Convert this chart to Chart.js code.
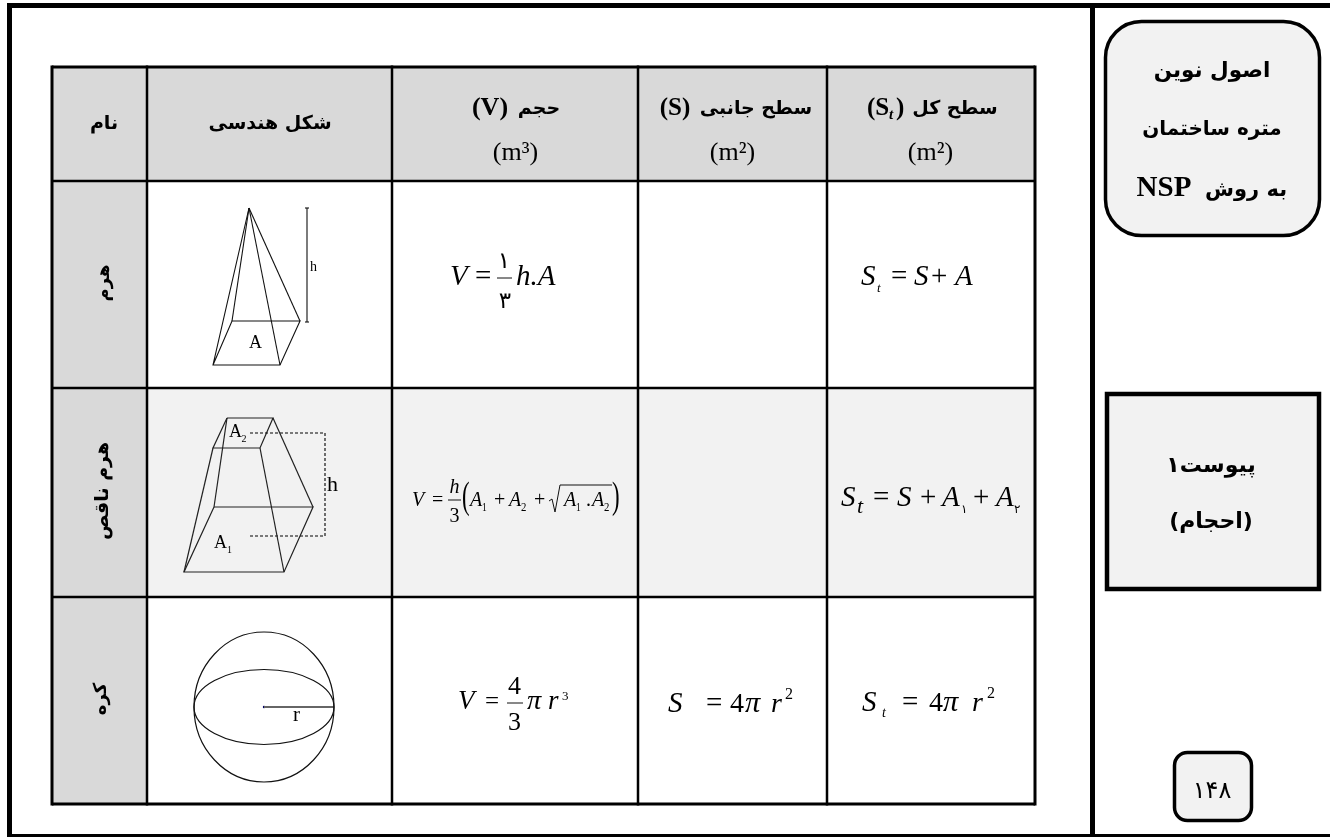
<!DOCTYPE html>
<html><head><meta charset="utf-8">
<style>html,body{margin:0;padding:0;background:#fff;overflow:hidden}canvas{display:block}</style>
<script src="https://cdn.jsdelivr.net/npm/chart.js@4"></script></head>
<body><canvas id="c" width="1330" height="837"></canvas>
<script>
// ---- table content ----
const rowNames = ["نام", "هرم", "هرم ناقص", "کره"];
const shapeHeader = "شکل هندسی";
const volumeHeader = ["حجم", "(V)", "(m³)"];
const lateralHeader = ["سطح جانبی", "(S)", "(m²)"];
const totalHeader = ["سطح کل", "(S", "t", ")", "(m²)"];
const sideTitle = ["اصول نوین", "متره ساختمان", "به روش", "NSP"];
const appendixTitle = ["پیوست۱", "(احجام)"];
const pageNumber = "۱۴۸";

// ---- table grid, in the page-sized data space ----
const columnEdges = [52, 147, 392, 638, 827, 1035];
const rowEdges = [67, 181, 388, 597, 804];

// ---- figures ----
const frameLines = [
  [[9.5,3],[9.5,837]], [[7,5.5],[1330,5.5]], [[1092.5,5],[1092.5,835]], [[7,835.5],[1330,835.5]]
];
const pyramidLines = [
  [[249,208],[213,365],[280,365],[300,321],[232,321],[213,365]],
  [[249,208],[280,365]], [[249,208],[300,321]], [[249,208],[232,321]],
  [[307,208],[307,322]], [[305,208],[309,208]], [[305,322],[309,322]]
];
const frustumLines = [
  [[227,418],[273,418],[260,448],[213,448],[227,418]],
  [[214,507],[313,507],[284,572],[184,572],[214,507]],
  [[213,448],[184,572]], [[227,418],[214,507]], [[260,448],[284,572]], [[273,418],[313,507]]
];
const frustumDashes = [[[250,433],[325,433],[325,536],[250,536]]];
const sphereRadiusLine = [[[264,707],[334,707]]];
const formulaLines = [
  [[497,278],[512,278]],                    // 1/3 bar
  [[448,500],[461,500]],                    // h/3 bar
  [[507,703],[523,703]],                    // 4/3 bar
  [[549,501],[552,499],[555,512],[560,485],[612,485]] // root
];
const sphere = {cx:264, cy:707, rx:70, ry:75, eqRy:37.5};

// ---- helpers that turn the lists into Chart.js datasets ----
const pts = l => l.map(p => ({x:p[0], y:p[1]}));
const lineSet = (l, w, color, dash) => ({type:'scatter', data:pts(l), showLine:true, borderColor:color, borderWidth:w,
  borderDash:dash||[], pointRadius:0, fill:false, tension:0, clip:false, borderCapStyle:'butt', borderJoinStyle:'miter'});
const datasets = [];
frameLines.forEach((l,i) => datasets.push(lineSet(l, i===3?3:5, '#000')));
columnEdges.forEach((x,i) => datasets.push(lineSet([[x,rowEdges[0]-1.5],[x,rowEdges[4]+1.5]], (i===0||i===5)?3:2.5, '#000')));
rowEdges.forEach((y,i) => datasets.push(lineSet([[columnEdges[0],y],[columnEdges[5],y]], (i===0||i===4)?3:2.5, '#000')));
pyramidLines.forEach(l => datasets.push(lineSet(l, 1.1, '#111')));
frustumLines.forEach(l => datasets.push(lineSet(l, 1.2, '#222')));
frustumDashes.forEach(l => datasets.push(lineSet(l, 1.1, '#000', [3,2])));
sphereRadiusLine.forEach(l => datasets.push(lineSet(l, 1.8, '#666')));
formulaLines.forEach(l => datasets.push(lineSet(l, 1, '#111')));
datasets.push({type:'scatter', data:[{x:264,y:707}], pointRadius:1.2, backgroundColor:'#00006a', borderWidth:0, clip:false});

const DV = '"DejaVu Sans"';
const SERIF = '"Liberation Serif"';

const plugin = {
  id:'page',
  beforeDatasetsDraw(chart){
    const {ctx, scales:{x, y}} = chart;
    const X=v=>x.getPixelForValue(v), Y=v=>y.getPixelForValue(v);
    const rect=(a,b,c,d,col)=>{ctx.fillStyle=col;ctx.fillRect(X(a),Y(b),X(c)-X(a),Y(d)-Y(b));};
    ctx.save();
    rect(columnEdges[0],rowEdges[0],columnEdges[5],rowEdges[1],'#d9d9d9');
    rect(columnEdges[0],rowEdges[0],columnEdges[1],rowEdges[4],'#d9d9d9');
    rect(columnEdges[1],rowEdges[2],columnEdges[5],rowEdges[3],'#f2f2f2');
    ctx.lineWidth=3.5; ctx.strokeStyle='#000'; ctx.fillStyle='#f2f2f2';
    ctx.beginPath(); ctx.roundRect(X(1105.5),Y(21.5),214,214,36); ctx.fill(); ctx.stroke();
    ctx.lineWidth=4.5;
    ctx.beginPath(); ctx.rect(X(1107),Y(394),212,195); ctx.fill(); ctx.stroke();
    ctx.lineWidth=3.5;
    ctx.beginPath(); ctx.roundRect(X(1174.5),Y(752.5),77,68,13); ctx.fill(); ctx.stroke();
    ctx.restore();
  },
  afterDatasetsDraw(chart){
    const {ctx, scales:{x, y}} = chart;
    const X=v=>x.getPixelForValue(v), Y=v=>y.getPixelForValue(v);
    ctx.save();
    ctx.strokeStyle='#111'; ctx.lineWidth=1.2;
    ctx.beginPath(); ctx.ellipse(X(sphere.cx),Y(sphere.cy),sphere.rx,sphere.ry,0,0,Math.PI*2); ctx.stroke();
    ctx.beginPath(); ctx.ellipse(X(sphere.cx),Y(sphere.cy),sphere.rx,sphere.eqRy,0,0,Math.PI*2); ctx.stroke();

    ctx.fillStyle='#000'; ctx.textBaseline='alphabetic';
    const ar=(t,cx,by,size,weight)=>{ctx.font=`${weight||'bold'} ${size||18}px ${DV}`;ctx.direction='rtl';ctx.textAlign='center';ctx.fillText(t,X(cx),Y(by));ctx.direction='ltr';};
    const la=(t,px,by,f,sx)=>{ctx.font=f;ctx.textAlign='left';ctx.direction='ltr';
      ctx.save();ctx.translate(X(px),Y(by));ctx.scale(sx||1,1);ctx.fillText(t,0,0);ctx.restore();};
    const cen=(t,cx,by,f)=>{ctx.font=f;ctx.textAlign='center';ctx.direction='ltr';ctx.fillText(t,X(cx),Y(by));};
    const rot=(t,cx,cy,size)=>{ctx.save();ctx.translate(X(cx),Y(cy));ctx.rotate(-Math.PI/2);ctx.font=`bold ${size||18}px ${DV}`;ctx.direction='rtl';ctx.textAlign='center';ctx.textBaseline='middle';ctx.fillText(t,0,0);ctx.restore();};

    // header
    ar(rowNames[0],104,129,19);
    ar(shapeHeader,270,129,19);
    ar(volumeHeader[0],539,114,19); cen(volumeHeader[1],490,115,`bold 26px ${SERIF}`);
    cen(volumeHeader[2],515.5,160,`26px ${SERIF}`);
    ar(lateralHeader[0],756,114,19); cen(lateralHeader[1],675,115,`bold 25px ${SERIF}`);
    cen(lateralHeader[2],732.5,160,`26px ${SERIF}`);
    ar(totalHeader[0],955,114,19);
    la(totalHeader[1],867,115,`bold 25px ${SERIF}`);
    la(totalHeader[2],889,119,`italic bold 15px ${SERIF}`);
    la(totalHeader[3],896,115,`bold 25px ${SERIF}`);
    cen(totalHeader[4],930.5,160,`26px ${SERIF}`);

    // row names
    rot(rowNames[1],104,283,18);
    rot(rowNames[2],103,491,19);
    rot(rowNames[3],101,699,18);

    // figure labels
    const S=SERIF;
    la('h',310,271,`14px ${S}`);
    la('A',249,348,`18px ${S}`);
    la('A',229,437,`18px ${S}`); la('2',241.5,441.5,`10px ${S}`);
    la('A',214,548,`18px ${S}`); la('1',227,553,`10px ${S}`);
    la('h',327,491,`22px ${S}`);
    la('r',293,721,`21px ${S}`);

    // formulas
    const I=`italic 29px ${S}`, R=`29px ${S}`;
    la('V',450,285,I); la('=',475,285,R);
    cen('۱',504,268,`23px ${DV}`); cen('۳',505,308,`23px ${DV}`);
    la('h.A',516,285,I);
    la('S',861,285,I); la('t',877,292,`italic 13px ${S}`);
    la('=',891,285,R); la('S',914,285,I); la('+',931,285,R); la('A',955,285,I);

    const i2=`italic 20px ${S}`, r2=`20px ${S}`, sub=`12px ${S}`;
    la('V',412,506,i2); la('=',432,506,r2);
    cen('h',454.5,493,i2); cen('3',454.5,522,r2);
    la('(',462,508,`38px ${S}`,.6);
    la('A',470,506,i2); la('1',482,511,sub,.8);
    la('+',494,506,r2); la('A',509,506,i2); la('2',521,511,sub,.9);
    la('+',534,506,r2);
    la('A',564,506,i2); la('1',576,511,sub,.8); la('.',586,506,r2);
    la('A',592,506,i2); la('2',604,511,sub,.9);
    la(')',612,508,`38px ${S}`,.6);

    la('S',841,506,I); la('t',857,513,`italic 22px ${S}`);
    la('=',873,506,R); la('S',897,506,I); la('+',920,506,R); la('A',942,506,I);
    la('۱',961,513,`12px ${DV}`);
    la('+',973,506,R); la('A',996,506,I);
    la('۲',1014,513,`12px ${DV}`);

    const i3=`italic 27px ${S}`, r3=`25px ${S}`;
    la('V',458,709,i3); la('=',485,709,r3);
    cen('4',514.5,694,`26px ${S}`); cen('3',514.5,730,`26px ${S}`);
    la('π',527,709,i3,1.05); la('r',548,709,i3); la('3',562,700,`13px ${S}`);
    la('S',668,711.5,I); la('=',706,711.5,R);
    la('4',730,711.5,`28px ${S}`); la('π',745,711.5,I,1.05); la('r',771,711.5,`italic 28px ${S}`); la('2',785,699,`16px ${S}`);
    la('S',862,711,I); la('t',882,717,`italic 14px ${S}`);
    la('=',902,711,R); la('4',929,711,`28px ${S}`); la('π',943,711,I,1.05);
    la('r',972,711,`italic 28px ${S}`); la('2',987,698,`16px ${S}`);

    // side panels
    ar(sideTitle[0],1212,77,21.5);
    ar(sideTitle[1],1212,135,20);
    ar(sideTitle[2],1246,196,21); cen(sideTitle[3],1164,196,`bold 29px ${S}`);
    ar(appendixTitle[0],1211,472,22);
    ar(appendixTitle[1],1211,528,22);
    ar(pageNumber,1212,798,24,'normal');
    ctx.restore();
  }
};

new Chart(document.getElementById('c'), {
  data:{datasets},
  options:{
    responsive:false, animation:false, devicePixelRatio:1,
    layout:{padding:0, autoPadding:false},
    plugins:{legend:{display:false}, tooltip:{enabled:false}, title:{display:false}},
    events:[],
    scales:{
      x:{type:'linear', min:0, max:1330, display:false},
      y:{type:'linear', min:0, max:837, reverse:true, display:false}
    }
  },
  plugins:[plugin]
});
</script></body></html>
